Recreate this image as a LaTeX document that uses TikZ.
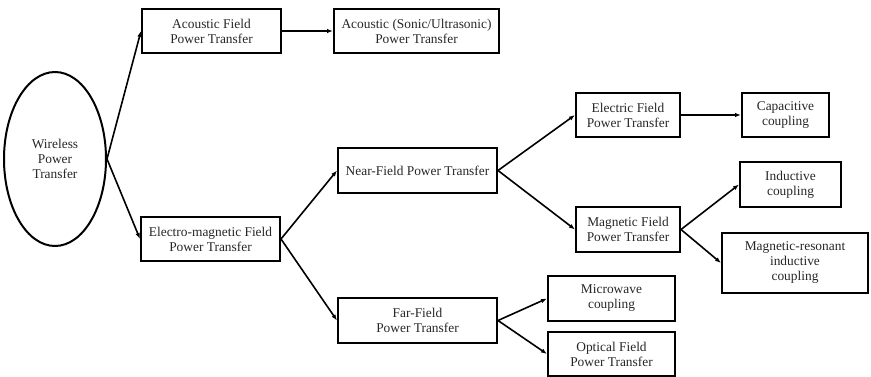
\documentclass[tikz,border=0pt]{standalone}
\usepackage{fontspec}
\setmainfont{Liberation Serif}
\usetikzlibrary{shapes.geometric,arrows.meta}
\begin{document}
\begin{tikzpicture}[x=1pt,y=-1pt,
  every node/.style={font=\fontsize{13.4}{15}\selectfont, text=black!85, align=center, inner sep=0pt},
  box/.style={draw, line width=2pt, rectangle},
  link/.style={line width=1.6pt, -{Latex[length=6pt,width=4.5pt]}}]
\useasboundingbox (0,0) rectangle (871,377);
% root
\node[draw, ellipse, line width=2pt, minimum width=102, minimum height=174] (wpt) at (55,159) {Wireless\\Power\\Transfer};
% first level
\node[box, minimum width=139, minimum height=44] (afp) at (211.5,31) {Acoustic Field\\Power Transfer};
\node[box, minimum width=139, minimum height=44] (emf) at (210.5,239) {Electro-magnetic Field\\Power Transfer};
% acoustic branch
\node[box, minimum width=165, minimum height=44] (sonic) at (416.5,31) {Acoustic (Sonic/Ultrasonic)\\Power Transfer};
% electromagnetic branch
\node[box, minimum width=159, minimum height=45] (near) at (417.5,170.5) {Near-Field Power Transfer};
\node[box, minimum width=159, minimum height=45] (far) at (417.5,320.5) {Far-Field\\Power Transfer};
% near field
\node[box, minimum width=104, minimum height=44] (efp) at (628,115) {Electric Field\\Power Transfer};
\node[box, minimum width=104, minimum height=45] (mfp) at (628,229.5) {Magnetic Field\\Power Transfer};
\node[box, minimum width=87, minimum height=44] (cap) at (785.5,115) {Capacitive\\coupling};
\node[box, minimum width=101, minimum height=45] (ind) at (790.5,184.5) {Inductive\\coupling};
\node[box, minimum width=146, minimum height=60] (mri) at (795,263) {Magnetic-resonant\\inductive\\coupling};
% far field
\node[box, minimum width=127, minimum height=45] (mic) at (611.5,298.5) {Microwave\\coupling};
\node[box, minimum width=127, minimum height=44] (opt) at (611.5,354) {Optical Field\\Power Transfer};
% connectors
\draw[link] (wpt.east) -- (afp.west);
\draw[link] (wpt.east) -- (emf.west);
\draw[link] (afp.east) -- (sonic.west);
\draw[link] (emf.east) -- (near.west);
\draw[link] (emf.east) -- (far.west);
\draw[link] (near.east) -- (efp.west);
\draw[link] (near.east) -- (mfp.west);
\draw[link] (efp.east) -- (cap.west);
\draw[link] (mfp.east) -- (ind.west);
\draw[link] (mfp.east) -- (mri.west);
\draw[link] (far.east) -- (mic.west);
\draw[link] (far.east) -- (opt.west);
\end{tikzpicture}
\end{document}
